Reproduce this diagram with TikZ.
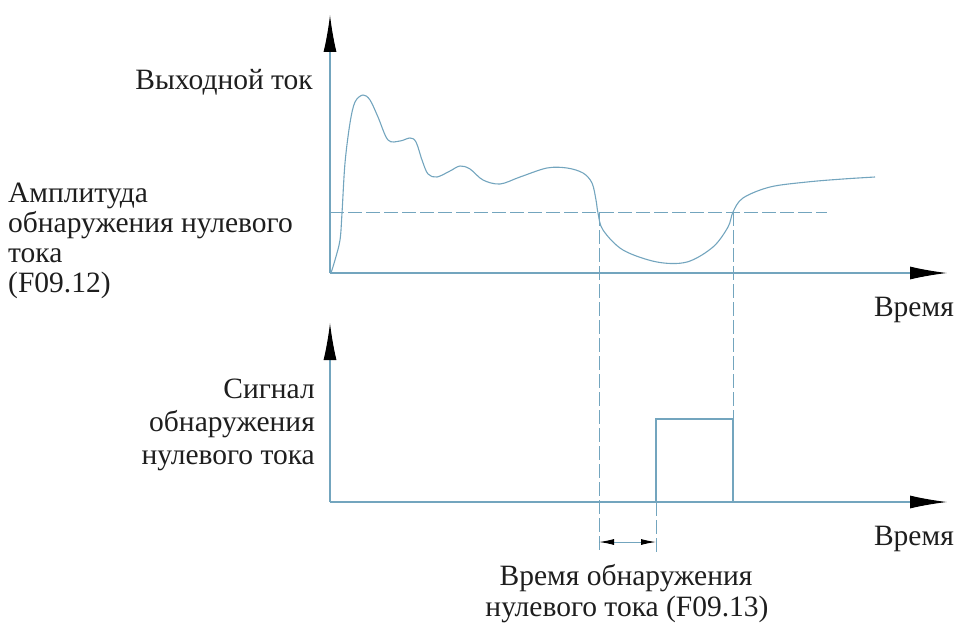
\documentclass[tikz,border=0pt]{standalone}
\usepackage{fontspec}
\setmainfont{Liberation Serif}
\newfontfamily\tnr{Liberation Serif}
\usetikzlibrary{arrows.meta}
\definecolor{ln}{RGB}{115,165,190}
\definecolor{tx}{RGB}{30,30,30}
\begin{document}
\begin{tikzpicture}[x=1pt,y=-1pt,
  lbl/.style={font=\tnr\fontsize{29.5}{30}\selectfont, text=tx, inner sep=0pt},
  axis/.style={draw=ln, line width=1.1pt, -{Latex[length=37pt,width=13pt,color=black]}},
  guide/.style={draw=ln, line width=1pt, dash pattern=on 14pt off 4pt},
  sig/.style={draw=ln, line width=1.1pt},
  dim/.style={draw=ln, line width=1pt, {Latex[length=15pt,width=6pt,color=black]}-{Latex[length=15pt,width=6pt,color=black]}}]
\useasboundingbox (0,0) rectangle (957,626);
% coordinates
\coordinate (O1) at (330,273);
\coordinate (Y1) at (330,15);
\coordinate (X1) at (947,273);
\coordinate (O2) at (330,502);
\coordinate (Y2) at (330,323);
\coordinate (X2) at (947,502);
\coordinate (T0) at (330,212);
\coordinate (T1) at (827,212);
\coordinate (A1) at (599,212);
\coordinate (A2) at (599,553);
\coordinate (B1) at (733,212);
\coordinate (B2) at (733,419);
\coordinate (B3) at (733,502);
\coordinate (C1) at (656,502);
\coordinate (C2) at (656,419);
\coordinate (C3) at (656,553);
\coordinate (D1) at (599,542);
\coordinate (D2) at (656,542);
% axes
\draw[axis] (O1) -- (Y1);
\draw[axis] (O1) -- (X1);
\draw[axis] (O2) -- (Y2);
\draw[axis] (O2) -- (X2);
% guides
\draw[guide] (T0) -- (T1);
\draw[guide] (A1) -- (A2);
\draw[guide] (B1) -- (B2);
\draw[guide] (C1) -- (C3);
% pulse
\draw[sig] (C1) -- (C2) -- (B2) -- (B3);
% dimension
\draw[dim] (D1) -- (D2);
% curve
\draw[sig] plot[smooth, tension=0.55] coordinates {
 (331,273) (335,260) (340,240) (342,213) (345,163) (350,123) (355,102) (363,95)
 (370,100) (378,117) (388,140) (400,141) (410,138) (416,142) (422,160) (428,174)
 (437,177) (450,171) (460,166) (470,169) (483,180) (500,184) (520,177) (547,168)
 (567,168) (583,173) (592,183) (596,200) (598,213) (603,230) (623,250) (657,262)
 (687,262) (713,247) (728,227) (733,212) (743,198) (770,187) (807,182) (843,179) (875,177)};
% labels
\node[lbl, anchor=base east] (yout) at (313,89) {Выходной ток};
\node[lbl, anchor=base west] (amp1) at (8,202) {Амплитуда};
\node[lbl, anchor=base west] (amp2) at (8,232) {обнаружения нулевого};
\node[lbl, anchor=base west] (amp3) at (8,262) {тока};
\node[lbl, anchor=base west] (amp4) at (8,292) {(F09.12)};
\node[lbl, anchor=base east] (t1) at (954,316) {Время};
\node[lbl, anchor=base east] (t2) at (954,545) {Время};
\node[lbl, anchor=base east] (sg1) at (315,398) {Сигнал};
\node[lbl, anchor=base east] (sg2) at (315,431) {обнаружения};
\node[lbl, anchor=base east] (sg3) at (315,464) {нулевого тока};
\node[lbl, anchor=base] (dt1) at (626,585) {Время обнаружения};
\node[lbl, anchor=base] (dt2) at (627,616) {нулевого тока (F09.13)};
\end{tikzpicture}
\end{document}
